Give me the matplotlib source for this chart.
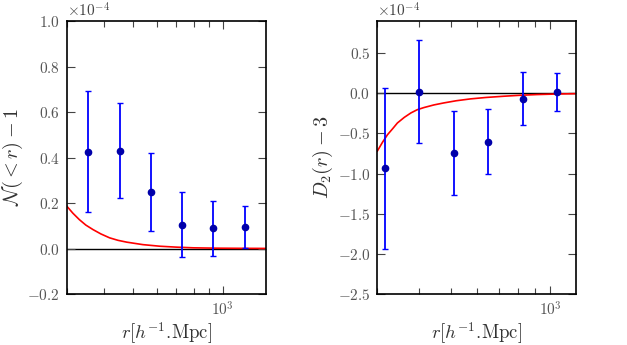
import math
import matplotlib
matplotlib.use("Agg")
import matplotlib.pyplot as plt
from matplotlib.ticker import FixedLocator, FuncFormatter, NullFormatter, LogLocator

plt.rcParams['mathtext.fontset'] = 'cm'
plt.rcParams['font.family'] = 'DejaVu Serif'

# ---- data (values in units of 1e-4) ----
r_left = [354, 452, 574, 731, 932, 1190]
n_left = [0.425, 0.430, 0.250, 0.105, 0.090, 0.094]
n_err = [0.266, 0.210, 0.172, 0.142, 0.121, 0.093]

r_curve_left = [300, 314, 330, 347, 367, 390, 417, 445, 476, 540, 616, 700, 798, 950, 1150, 1400]
n_curve_left = [0.185, 0.155, 0.127, 0.103, 0.083, 0.064, 0.047, 0.036, 0.028, 0.017, 0.010, 0.006, 0.003, 0.0015, 0.0008, 0.0004]

r_right = [316, 401, 511, 649, 825, 1047]
d_right = [-0.936, 0.020, -0.749, -0.603, -0.066, 0.017]
d_err = [1.00, 0.640, 0.524, 0.405, 0.329, 0.241]

r_curve_right = [300, 311, 322, 334, 345, 362, 379, 396, 415, 445, 477, 520, 574, 640, 723, 810, 912, 1050, 1200]
d_curve_right = [-0.72, -0.61, -0.516, -0.44, -0.37, -0.30, -0.245, -0.205, -0.178, -0.145, -0.12, -0.093, -0.07, -0.052, -0.037, -0.025, -0.016, -0.009, -0.005]

left_yticks = [-0.2, 0.0, 0.2, 0.4, 0.6, 0.8, 1.0]
right_yticks = [-2.5, -2.0, -1.5, -1.0, -0.5, 0.0, 0.5]

fig = plt.figure(figsize=(6.27, 3.45), dpi=100)
ax1 = fig.add_axes([0.1069, 0.1478, 0.3174, 0.7913])
ax2 = fig.add_axes([0.6018, 0.1478, 0.3174, 0.7913])

tickfmt = FuncFormatter(lambda v, p: r'$%.1f$' % v if abs(v) > 1e-9 else r'$0.0$')

def style(ax, xlim, ylim, yticks):
    ax.set_xscale('log')
    ax.set_xlim(*xlim)
    ax.set_ylim(*ylim)
    ax.yaxis.set_major_locator(FixedLocator(yticks))
    ax.yaxis.set_major_formatter(tickfmt)
    ax.xaxis.set_major_locator(LogLocator(base=10))
    ax.xaxis.set_major_formatter(FuncFormatter(lambda v, p: r'$10^{%d}$' % round(math.log10(v))))
    ax.xaxis.set_minor_locator(LogLocator(base=10, subs=range(2, 10)))
    ax.xaxis.set_minor_formatter(NullFormatter())
    ax.tick_params(which='both', direction='in', top=True, right=True, labelsize=11, colors='#444444', labelcolor='#555555')
    ax.tick_params(which='major', length=6, width=0.8, pad=5)
    ax.tick_params(which='minor', length=4, width=0.8)
    for s in ax.spines.values():
        s.set_linewidth(1.2)
        s.set_color('black')
    ax.axhline(0, color='black', lw=1.0, zorder=1)
    ax.set_xlabel(r'$r[h^{-1}.\!\mathrm{Mpc}]$', fontsize=13.5, color='#333333', labelpad=1)
    ax.text(0.0, 1.005, r'$\times10^{-4}$', transform=ax.transAxes, fontsize=11, color='#444444', ha='left', va='bottom')

ax1.plot(r_curve_left, n_curve_left, color='red', lw=1.2, zorder=2)
ax1.errorbar(r_left, n_left, yerr=n_err, fmt='o', color='blue', ecolor='blue', mfc='#0000aa', mec='#0000aa',
             ms=4.5, elinewidth=1.3, capsize=2, capthick=1, zorder=3)
style(ax1, (300, 1400), (-0.2, 1.0), left_yticks)
ax1.set_ylabel(r'$\mathcal{N}(<r)-1$', fontsize=14.5, color='#333333', labelpad=2)

ax2.plot(r_curve_right, d_curve_right, color='red', lw=1.2, zorder=2)
ax2.errorbar(r_right, d_right, yerr=d_err, fmt='o', color='blue', ecolor='blue', mfc='#0000aa', mec='#0000aa',
             ms=4.5, elinewidth=1.3, capsize=2, capthick=1, zorder=3)
style(ax2, (300, 1200), (-2.5, 0.9), right_yticks)
ax2.set_ylabel(r'$D_2(r)-3$', fontsize=14.5, color='#333333', labelpad=2)

fig.savefig('out.png', dpi=100)
